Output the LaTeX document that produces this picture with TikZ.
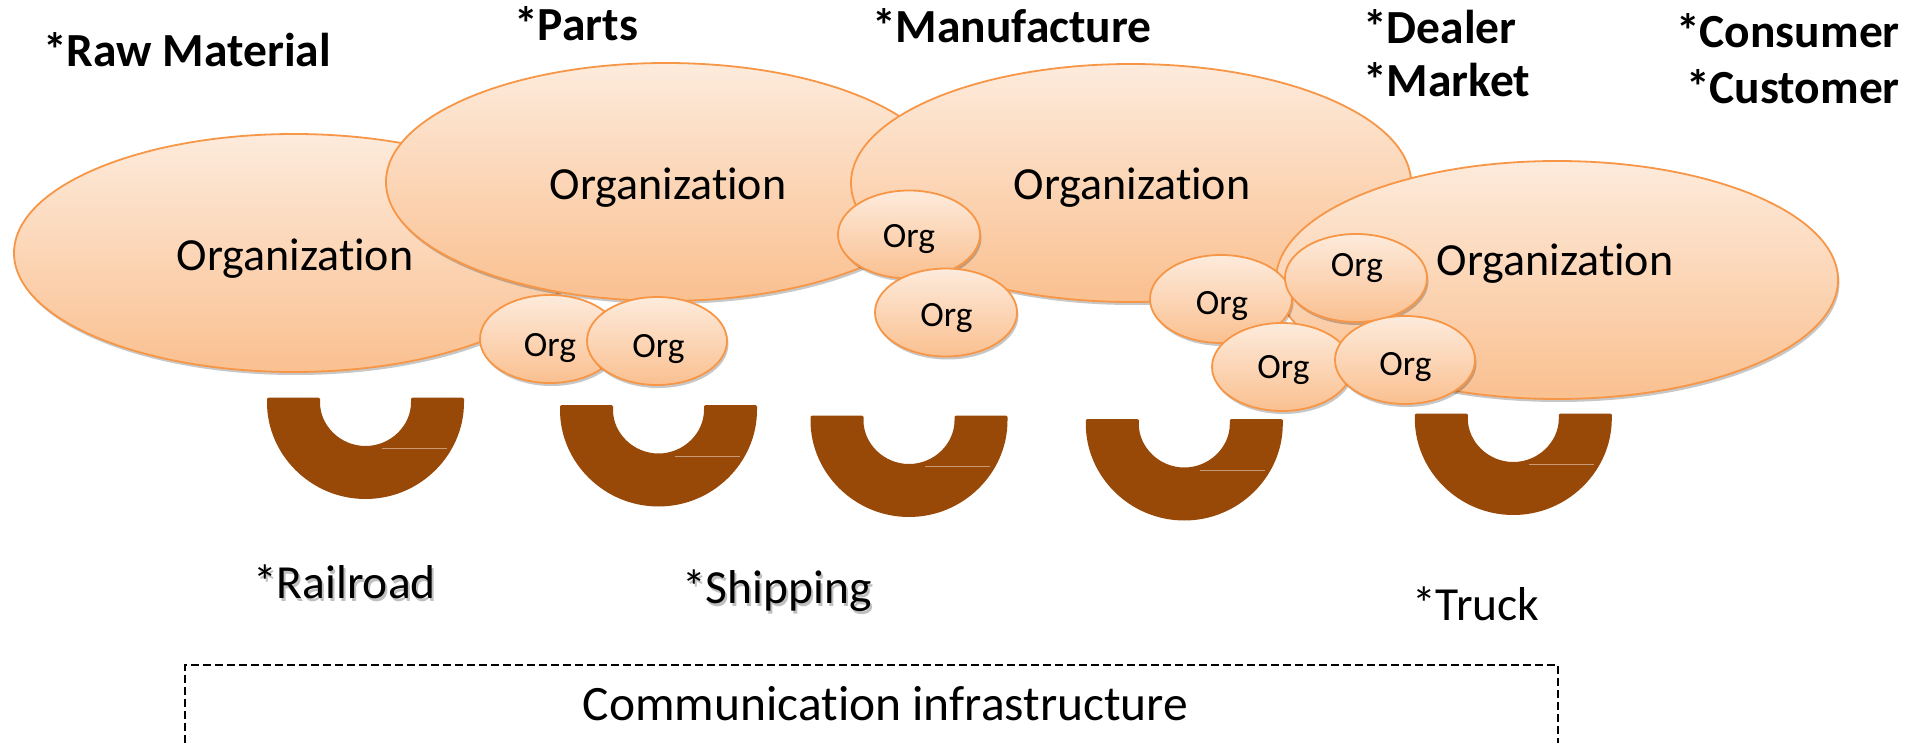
\documentclass[tikz,border=0pt]{standalone}
\usepackage{fontspec}
\setmainfont{Carlito}[Ligatures={NoCommon,NoContextual}]
\usetikzlibrary{shadows}
\definecolor{orgline}{RGB}{247,150,70}
\definecolor{orgtop}{RGB}{253,235,220}
\definecolor{orgbot}{RGB}{250,192,144}
\definecolor{ubrown}{RGB}{152,72,7}
\newcommand\brownU[2]{%
  \fill[ushape] (#1-98.5,#2-3) -- (#1-98.5,#2) arc[start angle=180,end angle=360,radius=98.5pt]
    -- (#1+98.5,#2-3) -- (#1+45.5,#2-3) -- (#1+45.5,#2) arc[start angle=0,end angle=-180,radius=45.5pt]
    -- (#1-45.5,#2-3) -- cycle;
  \draw[uline] (#1+16,#2+48) -- (#1+81,#2+48);}
\begin{document}
\begin{tikzpicture}[x=1pt,y=-1pt,
  orgshape/.style={draw=orgline, line width=1.8pt, top color=orgtop, bottom color=orgbot,
    drop shadow={shadow xshift=1.5pt, shadow yshift=-3pt, opacity=0.22, fill=black}},
  bigtxt/.style={inner sep=0pt, anchor=base, font=\fontsize{46}{50}\selectfont},
  smalltxt/.style={inner sep=0pt, anchor=base, font=\fontsize{35.5}{40}\selectfont},
  headtxt/.style={inner sep=0pt, anchor=base west, font=\fontsize{47.5}{52}\selectfont\bfseries},
  headtxtr/.style={headtxt, anchor=base east},
  linktxt/.style={inner sep=0pt, anchor=base west, font=\fontsize{47.5}{52}\selectfont},
  linkshadow/.style={linktxt, text=black, opacity=0.25},
  ushape/.style={fill=ubrown, rounded corners=2pt},
  uline/.style={draw=ubrown!55!white, line width=0.8pt},
  commbox/.style={draw=black, line width=1.3pt, dash pattern=on 8pt off 4pt}
]
\useasboundingbox (0,0) rectangle (1923,743);

% big organizations
\path[orgshape] (294,253) ellipse [x radius=280pt, y radius=119pt];
\node[bigtxt] (o1) at (295,271) {Organization};
\path[orgshape] (666,182) ellipse [x radius=280pt, y radius=119pt];
\node[bigtxt] (o2) at (668,200) {Organization};
\path[orgshape] (1131,183) ellipse [x radius=280pt, y radius=119pt];
\node[bigtxt] (o3) at (1132,200) {Organization};
\path[orgshape] (1557,280) ellipse [x radius=281pt, y radius=119pt];
\node[bigtxt] (o4) at (1555,276) {Organization};

% small orgs
\path[orgshape] (550,339) ellipse [x radius=70pt, y radius=44pt];
\node[smalltxt] (sa) at (550,357) {Org};
\path[orgshape] (657,341) ellipse [x radius=70pt, y radius=44pt];
\node[smalltxt] (sb) at (658.5,358) {Org};
\path[orgshape] (909,234.5) ellipse [x radius=71pt, y radius=44pt];
\node[smalltxt] (sc) at (909,248) {Org};
\path[orgshape] (946,312.5) ellipse [x radius=71pt, y radius=44pt];
\node[smalltxt] (sd) at (946.5,327) {Org};
\path[orgshape] (1221,299) ellipse [x radius=71pt, y radius=44pt];
\node[smalltxt] (se) at (1222,315) {Org};
\path[orgshape] (1356,278) ellipse [x radius=71pt, y radius=44pt];
\node[smalltxt] (sf) at (1357,277) {Org};
\path[orgshape] (1282,367) ellipse [x radius=70pt, y radius=44pt];
\node[smalltxt] (sg) at (1283.5,378) {Org};
\path[orgshape] (1405,360) ellipse [x radius=70pt, y radius=44pt];
\node[smalltxt] (sh) at (1405.5,375) {Org};

% brown links
\brownU{365.5}{400.5}
\brownU{658.5}{408}
\brownU{909}{418.5}
\brownU{1184.3}{422}
\brownU{1513.3}{416.5}

% headings
\node[headtxt] (raw) at (43,67) {*Raw Material};
\node[headtxt] (parts) at (514,41) {*Parts};
\node[headtxt] (manu) at (872,43) {*Manufacture};
\node[headtxt] (deal) at (1363,44) {*Dealer};
\node[headtxt] (mark) at (1363,97) {*Market};
\node[headtxtr] (cons) at (1900,48) {*Consumer};
\node[headtxtr] (cust) at (1900,104) {*Customer};

% transport labels
\node[linkshadow] (rails) at (255,601) {*Railroad};
\node[linktxt] (rail) at (253,598) {*Railroad};
\node[linkshadow] (ships) at (684,606) {*Shipping};
\node[linktxt] (ship) at (682,603) {*Shipping};
\node[linktxt] (truck) at (1412,620) {*Truck};

% communication infrastructure
\draw[commbox] (185,743) -- (185,665) -- (1558,665) -- (1558,743);
\node[inner sep=0pt, anchor=base, font=\fontsize{49.5}{53}\selectfont] (comm) at (885.5,720) {Communication infrastructure};
\end{tikzpicture}
\end{document}
